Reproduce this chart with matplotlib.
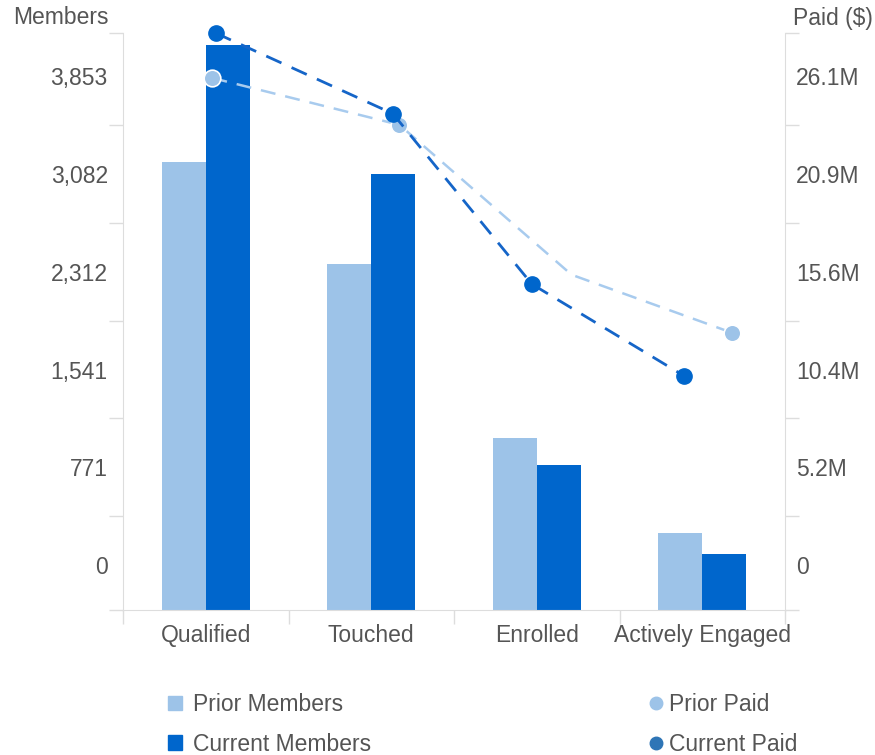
import matplotlib
matplotlib.use("Agg")
import matplotlib.pyplot as plt
from matplotlib.lines import Line2D
from matplotlib.patches import Patch
import numpy as np

plt.rcParams['font.family'] = ['Liberation Sans', 'DejaVu Sans']

# data
stages = ['Qualified', 'Touched', 'Enrolled', 'Actively Engaged']
prior_members = [3177, 2373, 1001, 252]
current_members = [4099, 3082, 788, 87]
prior_paid = [26.0, 23.5, 15.5, 12.4]        # millions
current_paid = [28.4, 24.1, 15.0, 10.1]      # millions
# horizontal placement of paid points inside each category (category units)
prior_paid_shift = [0.04, 0.17, 0.21, 0.18]
current_paid_shift = [0.06, 0.13, -0.03, -0.11]

member_ticks = [0, 771, 1541, 2312, 3082, 3853]
paid_ticks = [0, 5.22, 10.44, 15.66, 20.88, 26.1]
paid_labels = ['0', '5.2M', '10.4M', '15.6M', '20.9M', '26.1M']

c_prior = '#9DC3E8'
c_current = '#0066CC'
c_prior_line = '#A8CBEE'
c_current_line = '#1565C8'
c_axis = '#DDDDDD'
c_text = '#555555'
fs = 16.5

fig = plt.figure(figsize=(8.75, 7.55), dpi=100)
ax = fig.add_axes([0.1406, 0.192, 0.7566, 0.7642])
ax2 = ax.twinx()

# the bars start at the bottom of the plot area, below the 0 tick
ylo, yhi = -355, 4194
x = np.arange(len(stages))
w = 0.265
ax.bar(x - w / 2, np.array(prior_members) - ylo, w, bottom=ylo, color=c_prior, zorder=2)
ax.bar(x + w / 2, np.array(current_members) - ylo, w, bottom=ylo, color=c_current, zorder=2)

ax.set_ylim(ylo, yhi)
ax.set_xlim(-0.5, 3.5)
ax.set_yticks(member_ticks)
ax.set_yticklabels([f'{v:,}' for v in member_ticks])
minor_m = [ylo] + [v + 385.5 for v in member_ticks[:-1]] + [yhi]
ax.set_yticks(minor_m, minor=True)

ax.set_xticks(x)
ax.set_xticklabels(stages)
ax.set_xticks(np.arange(-0.5, 4.0, 1.0), minor=True)

ax2.set_ylim(-2.40, 28.4)
ax2.set_yticks(paid_ticks)
ax2.set_yticklabels(paid_labels)
step = 5.22
minor_p = [-2.40] + [v + step / 2 for v in paid_ticks[:-1]] + [28.4]
ax2.set_yticks(minor_p, minor=True)

ax2.plot(x + np.array(prior_paid_shift), prior_paid, color=c_prior_line, lw=1.8,
         dashes=(6, 4), marker='o', markevery=[0, 1, 3], ms=12,
         markerfacecolor=c_prior, markeredgecolor='white', markeredgewidth=1.2,
         clip_on=False, zorder=3)
ax2.plot(x + np.array(current_paid_shift), current_paid, color=c_current_line, lw=2,
         dashes=(6, 4), marker='o', ms=11, markerfacecolor=c_current,
         markeredgecolor=c_current, clip_on=False, zorder=4)

for a in (ax, ax2):
    for s in a.spines.values():
        s.set_visible(False)
    a.tick_params(which='major', length=0, labelsize=fs, colors=c_text)
    a.tick_params(which='minor', length=10, width=1, color=c_axis)
ax.spines['left'].set_visible(True)
ax.spines['bottom'].set_visible(True)
ax2.spines['right'].set_visible(True)
for s in (ax.spines['left'], ax.spines['bottom'], ax2.spines['right']):
    s.set_color(c_axis)
ax.tick_params(axis='y', which='major', pad=11)
ax.tick_params(axis='x', which='major', pad=10)
ax2.tick_params(axis='y', which='major', pad=8)

fig.text(13 / 875, 1 - 18 / 755, 'Members', fontsize=fs, color=c_text, va='center', ha='left')
fig.text(793 / 875, 1 - 18 / 755, 'Paid ($)', fontsize=fs, color=c_text, va='center', ha='left')

leg_kw = dict(frameon=False, fontsize=fs, labelcolor=c_text, handlelength=0.6,
              handleheight=0.6, handletextpad=0.5, labelspacing=0.72, borderaxespad=0)
h1 = [Patch(color=c_prior, label='Prior Members'), Patch(color=c_current, label='Current Members')]
fig.legend(handles=h1, loc='upper left', bbox_to_anchor=(159 / 875, 1 - 684 / 755), **leg_kw)
h2 = [Line2D([], [], ls='none', marker='o', ms=9, color=c_prior, label='Prior Paid'),
      Line2D([], [], ls='none', marker='o', ms=9, color='#2E75B6', label='Current Paid')]
leg_kw['handletextpad'] = 0.25
fig.legend(handles=h2, loc='upper left', bbox_to_anchor=(640 / 875, 1 - 684 / 755), **leg_kw)

fig.savefig('out.png', dpi=100)
